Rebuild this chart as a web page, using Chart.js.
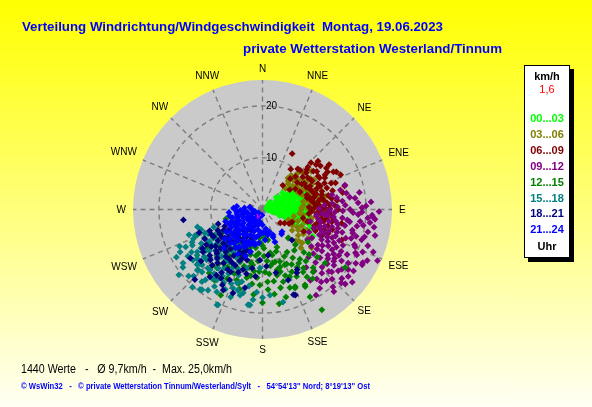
<!DOCTYPE html>
<html>
<head>
<meta charset="utf-8">
<script src="https://cdn.jsdelivr.net/npm/chart.js@4.4.0/dist/chart.umd.min.js"></script>
<style>
html,body{margin:0;padding:0;}
#wrap{position:relative;width:592px;height:407px;overflow:hidden;
  background:linear-gradient(to bottom,#ffff00 0%,#ffff30 20%,#ffff90 60%,#fffff4 100%);
  font-family:"Liberation Sans",Arial,Helvetica,sans-serif;}
#box{position:absolute;left:0;top:0;width:592px;height:407px;}
.t{position:absolute;white-space:pre;line-height:1;transform-origin:0 50%;}
.c{position:absolute;white-space:pre;font-size:10px;line-height:10px;color:#000;}
#legend{position:absolute;left:524px;top:65px;width:46px;height:193px;box-sizing:border-box;
  background:#fff;border:1px solid #000;box-shadow:4px 4px 0 #000;}
.lg{position:absolute;left:0;width:44px;text-align:center;font-size:11px;line-height:12px;height:12px;font-weight:bold;white-space:pre;}
</style>
</head>
<body>
<div id="wrap">
  <div id="box"><canvas id="cv"></canvas></div>
  <div class="t" id="title1" style="left:22px;top:20px;font-size:13px;font-weight:bold;color:#0000ff;">Verteilung Windrichtung/Windgeschwindigkeit  Montag, 19.06.2023</div>
  <div class="t" id="title2" style="left:243px;top:42px;font-size:13px;font-weight:bold;color:#0000ff;">private Wetterstation Westerland/Tinnum</div>
  <div class="t" id="foot1" style="left:21px;top:363px;font-size:12px;color:#000;">1440 Werte   -   Ø 9,7km/h  -  Max. 25,0km/h</div>
  <div class="t" id="foot2" style="left:21px;top:382px;font-size:8.5px;font-weight:bold;color:#0000ff;">© WsWin32   -   © private Wetterstation Tinnum/Westerland/Sylt   -   54°54'13'' Nord; 8°19'13'' Ost</div>
  <div id="legend"></div>
</div>
<script>
// ---------- data ----------
const compassLabels = ['N','NNE','NE','ENE','E','ESE','SE','SSE','S','SSW','SW','WSW','W','WNW','NW','NNW'];
const ringTicks = [10, 20];
const maxSpeed = 25;
const unitLabel = 'km/h';
const currentSpeed = '1,6';
const hourLabels = ['00...03','03...06','06...09','09...12','12...15','15...18','18...21','21...24'];
const hourUnit = 'Uhr';

// each point: [direction in degrees (0 = N, clockwise), speed km/h]
const wind00_03 = [[62,1],[70,1.2],[80,0.8],[90,1.5],[75,2],[65,2.3],[85,2.5],[95,2.2],[58,3],[68,3.2],[78,3],[88,3.4],[100,3],
 [60,4],[70,4.2],[80,4],[90,4.3],[104,4],[56,5],[64,5.2],[72,5],[82,5.4],[92,5.1],[102,5.3],[110,4.8],[58,6],[66,6.3],[74,6.1],
 [84,6.4],[94,6.2],[106,6],[60,7],[68,7.2],[76,7.4],[86,7.1],[98,7],[108,6.8],[63,8],[71,8.3],[79,8.6],[89,8],[100,7.8],[66,9],
 [74,9.2],[92,8.8],[73,1.8],[83,1.6],[67,2.8],[77,3.6],[93,3.8],[61,4.6],[76,4.8],[86,4.7],[96,4.6],[69,5.7],[79,5.8],[88,5.9],
 [99,5.7],[63,6.7],[71,6.6],[81,6.8],[91,6.7],[102,6.5],[84,8.2],[95,8.4],[118,11],[112,10],[54,4],[52,6.5],[115,7.5],[45,2],
 [48,3.5],[50,1.5],[105,2],[110,3.5],[108,9.5],
 [57,1.5],[67,1.6],[87,1],[97,1.2],[72,2.6],[82,2.2],[92,2.8],[102,2.6],[63,3.6],[73,3.9],[83,3.2],[97,3.4],[107,3.2],[66,4.4],
 [75,4.5],[85,4],[95,4.2],[100,4.6],[60,5.5],[68,5.5],[77,5.3],[87,5.6],[97,5.4],[106,5.2],[62,6.2],[70,6],[79,6.3],[89,6.4],
 [98,6.3],[104,6.8],[57,7.2],[65,7.6],[73,7.8],[82,7.6],[93,7.5],[104,7.4],[69,8.7],[78,9],[87,8.6],[97,8.9],[104,8.4],[112,7],
 [114,6],[116,9],[55,8],[50,5],[110,8.3],[73,10],[84,9.5],[70,9.6],[80,7.8],[90,7.4],[96,7.9],[102,9.2],[77,8.2],[86,9.2],[67,8.2]];
const wind03_06 = [[39,7.8],[40,8.6],[45,7],[50,9],[55,8],[48,10.5],[58,10],[62,7.5],[65,9.3],[70,8.2],[72,10.5],[80,9],
 [84,8],[88,10],[90,7.5],[95,9],[98,8],[104,9.5],[108,7.2],[112,5.4],[115,9.5],[120,8],[125,7],[130,10],[133,8.8],[60,11.5],
 [68,12],[82,11.2],[100,11],[102,6.2],[118,6.5],[110,11],[78,12.5],[52,12],[44,9.6],
 [64,8.5],[94,10.6],[106,8.5],[122,10.5],[70,11],[97,12],[58,9.2],[128,12],[48,6],[75,9.8],[89,8.8],
 [42,7.4],[46,8.2],[52,7.4],[54,9.6],[57,11],[61,9.4],[63,10.8],[67,7.8],[69,9.7],[73,8.8],[77,11],[79,8],[81,10],[83,9.5],
 [87,7.6],[91,9.3],[93,11.5],[96,7.2],[100,9.6],[103,8.2],[107,10.5],[110,6.2],[113,8.2],[117,7.5],[121,9.2],[126,8.5],[131,9.3],
 [135,10.5],[59,8]];
const wind06_09 = [[28,12.2],[41,10.4],[53,12.3],[57,14.7],[61,12.6],[55,10.7],[71.5,13.1],[76,11.8],[83,14.5],[90,14.6],
 [100,13.6],[127,4.3],[113,6.2],[40,6.1],[88,10.1],[95,11.5],[75.5,8.9],[111,16.4],[45,9],[48,11.5],[50,13.5],[52,8.5],[58,9.5],
 [60,11],[63,13.5],[65,8],[67,10],[68,12],[70,15],[72,9],[74,10.8],[78,13],[80,9.6],[82,12],[85,10.5],[86,13],[88,12],[92,9.5],
 [93,13],[97,10.5],[98,12.5],[103,11],[105,9],[108,12.5],[46,13],[42,8],[62,15.5],[66,16.5],[78,15.8],[54,6.5],
 [102,8],[118,9],[35,9.5],[64,10.2],[69,11.2],[77,10.2],[81,11],[59,12.5],[91,11],[87,9],[56,15.5],[49,14.2],[100,15.5],
 [106,14],[122,5],[118,5.8],
 [44,10.5],[47,12],[51,10],[53,14],[55,12.8],[57,9],[59,11],[61,13.8],[63,9.5],[65,11.8],[67,13],[69,14.2],[71,10.3],[73,12],
 [75,14],[77,9.5],[79,11.7],[81,13.5],[83,10],[84,12.5],[86,11],[87,14],[89,13],[90,11.5],[92,12.5],[94,10.5],[96,13.5],[99,11.5],
 [101,12],[104,13],[107,10.5],[110,13.5],[112,11],[114,12.5],[58,7.5],[95,9],[63,16],[74,16.5],[60,14.5],
 [50,11]];
const wind09_12 = [[73.5,16.6],[82,17],[91.5,19.2],[94,21.4],[97,20.9],[78,13.7],[92,14],[95,12.1],[108,11.6],[90,16.9],[89,19.2],
 [93,21.2],[95,21.8],[102,20.8],[105,20.4],[111,22.9],[118,21.9],[119,22],[125,20.2],[129,22.3],[137.7,20.2],[144,18.8],[131,20.3],
 [132,18],[115.7,20.2],[112,19.3],[104.6,18],[104,15],[112,14.5],[122.6,12.7],[125,15.4],[124,16.8],[95,12.7],[86,12],[88,14.5],
 [96,15.5],[98,17],[100,13],[100,18.5],[102,11.5],[106,16],[108,13.5],[108,18],[110,15],[114,12],[114,17],[116,14],[118,18.5],
 [120,11],[120,15.5],[122,19.5],[126,13],[128,17.5],[130,14.5],[134,16],[136,12.8],[140,15.5],[84,15.5],[86,18.5],[92,17.5],
 [96,10.5],[104,9.5],[110,10.5],[116,10],[124,10.5],[101,16.2],[107,20],[113,21],[121,17.2],[127,19.2],[80,19],[76,15.5],[99,14.3],
 [105,12.5],[111,12.8],[117,16],[103,22.3],[97,19],[133,20.8],[141,18],[128,21],[92,12.8],[89,11],[114,24.3],[94.6,20.4],
 [85,13.5],[87,16],[88,20],[90,13],[91,15.5],[93,18.5],[94,11.5],[96,13.8],[97,16.5],[99,19.7],[100,11],[101,14.8],[103,17.8],
 [104,13.8],[106,11.5],[106,18.8],[107,15],[109,17],[109,21.5],[110,12.3],[111,19],[112,16],[113,13.6],[115,15.2],[115,19.8],
 [116,22.5],[117,12.8],[118,17.2],[119,14.5],[120,20.8],[121,13.5],[122,16.2],[123,18.2],[124,21.2],[125,14],[126,17],[127,11.8],
 [127,15.8],[129,18.8],[130,16.3],[131,13],[132,21.5],[133,17.5],[135,14.5],[135,19],[137,16.8],[138,18.5],[139,21],[142,17],
 [143,14],[146,16.5],[148,19.5],[83,18],[79,16.5],[81,14.5],[86,21],[91,22.5],[99,21.8]];
const wind12_15 = [[175,5.3],[170,6],[159,7.8],[138,7.4],[137,9.3],[125.6,10.8],[131,14],[130.6,15.9],[125,19.5],[139,14.9],[147,14.4],
 [146.6,15.6],[150.6,16.7],[157.5,16.4],[164,14.5],[167.5,13],[177.7,12.1],[166.6,10.4],[163,11.6],[154.8,13.3],[170,8.5],[206,18.4],
 [213,13.2],[190,10.9],[184.6,13.2],[161.6,10.6],[158,11.5],[160.7,16],[157,16.2],[151,17],[151.5,19.2],[149.4,22.5],[141,15.5],
 [145,13.8],[166.5,12],[203,12.3],[218,14.3],[182,14.6],[255.5,7.3],[180,7],[185,8.5],[190,7.5],[195,9],[200,8],[205,10],[210,9],
 [215,11],[220,10.5],[175,10],[178,9],[188,12],[193,13.5],[198,11.5],[200,14.5],[208,12],[212,15.5],[172,11],[168,9],[162,8.5],
 [155,10],[152,12],[148,11],[143,12],[196,16],[186,16.5],[176,14],[224,12.5],[230,11],[226,8.5],[186,5.5],[195,6.5],[240,9],
 [235,13],[220,16],[165,17.5],[172,16.5],[180,18],
 [181,5],[183,6.5],[188,9],[190,13],[192,10.5],[197,7.5],[198,15],[202,9.5],[203,11],[204,13.5],[206,8.5],[207,15],[209,10.5],
 [211,13],[213,8],[214,16.5],[216,12.5],[217,9.5],[219,13.5],[222,14.5],[225,10],[178,7.5],[174,12.5],[171,14],[169,10.5],
 [167,15.5],[164,12.5],[161,13.5],[158,14],[156,11.5],[153,14.5],[150,9.5],[149,13],[146,12.5],[144,16.5],[142,10],[140,13],
 [136,11.5],[134,12.5],[185,10],[193,11.5],[196,12],[183,12],[176,15.5],[188,14.5],[170,18.5]];
const wind15_18 = [[234,16.6],[227,17],[222,20.2],[217,19.4],[213,16.2],[194.7,17.1],[205,20.3],[188.6,18.6],[175,16.6],[167.5,18.3],
 [195,11.7],[182.4,11.3],[197,16.3],[200.6,16.2],[221,15.4],[217,14.2],[249,13.9],[243,15.2],[242.7,17.9],[235,15.4],[227.5,15.8],
 [240,11],[243,9.6],[225.7,10.7],[225,8.9],[248.6,13.6],[245,15],[227,17.2],[218,19.6],[205.5,20.4],[200,18],[187.5,18.6],[234,19],
 [210,8],[215,9.5],[220,11],[225,12.5],[230,10],[232,13],[236,12],[238,14],[228,14.5],[222,13],[212,12],[208,14],[204,11],
 [216,16.5],[212,17.5],[208,16],[230,16.5],[238,17],[246,11.5],[250,10],[252,12.5],[236,8],[229,7],[218,7.5],[200,13.5],
 [196,14.5],[190,15],[184,16],[226,18.5],[214,18.8],[241,19],[232,20.5],
 [206,9],[209,10.5],[211,15],[213,13.5],[214,10],[216,12],[217,15.5],[219,8.5],[219,17.5],[221,12],[223,9.5],[223,15.5],
 [224,16.8],[226,11.5],[227,13.8],[229,12],[229,16],[231,14.5],[231,9],[233,11],[233,15.8],[234,13.5],[237,10.5],[237,15],
 [239,12],[239,16],[241,13.5],[242,10.5],[244,12.5],[244,16.5],[247,14.5],[248,12],[251,15],[202,12.5],[203,15.5],[205,17],
 [207,12.5],[209,18.2],[199,15],[193,16.5],[186,17.5],[180,17],[220,18.2],[228,19.2],[236,18.5],[246,17.5],[255,13]];
const wind18_21 = [[262.5,15.4],[239,7.8],[234.5,14.1],[226,12.2],[233,9.1],[228.6,6.5],[214,7.1],[222,14.5],[226,14],[224,18.8],
 [208,16.5],[206,17.3],[199.5,17.1],[192.6,15.5],[210,13.4],[183,9.8],[160,14.5],[160,17.5],[150,13.4],[136,8.2],[151.5,13.9],
 [159,17.7],[173,8.9],[200,6],[205,7.5],[210,6],[215,9],[220,8],[225,10],[230,7.5],[235,10.5],[240,9.5],[218,11.5],[212,10.5],
 [206,12],[202,10],[196,8.5],[228,12],[232,11.5],[238,12.8],[244,11],[222,5.5],[216,5],[208,4.5],[246,8],[250,13],[213,14.5],
 [201,13],[190,11.5],[186,13],[176,11],[168,12.5],[218,16.5],[230,15.5],[236,16.8],[226,9],[204,9],[198,12.2],
 [199,7],[201,8.5],[203,5.5],[207,9.5],[209,7.5],[211,8.7],[213,6.5],[214,11.5],[216,12.8],[217,7.2],[219,9.8],[221,10.8],
 [223,7],[223,12.8],[224,8.5],[227,11],[229,10],[229,13.5],[231,8.5],[232,6.5],[234,12.2],[236,9.5],[237,13.8],[241,10.8],
 [242,8.5],[243,12.5],[245,9.5],[248,11],[252,9],[204,10.8],[207,13.5],[210,11.8],[197,10.2],[194,12.8],[211,15.5],[220,13.5],
 [215,15.5],[205,15]];
const wind21_24 = [[272.9,5.6],[168,5],[159,5.7],[159,6.7],[139,5.7],[142,6],[157.6,5.3],[172,4.6],[281,2.5],[268,4.3],[275,3.5],
 [260,3],[250,2],[240,1.5],[230,1],[220,2.5],[210,2],[200,1.5],[190,2.5],[185,1.1],[240.6,6.1],[210,6.8],[192,7],[224,9],
 [228,5.9],[230,3.2],[192.4,4],[175,5.9],[235,4.5],[245,5],[250,4],[255,6],[258,5],[215,4.5],[205,3.5],[198,5.5],[218,7.5],
 [230,7.5],[238,8.2],[246,7],[215,9],[205,8],[200,9.5],[225,10.5],[195,3],[180,3],[265,6.5],[270,2],[214,5.8],[222,4],
 [232,9.2],[209,9.8],[242,3],[262,5],[252,7.5],
 [193,5.5],[196,6.5],[201,4.5],[203,6.8],[206,5.5],[208,7.5],[211,4],[212,8.5],[213,3],[217,6],[219,5],[220,8.5],[221,3.5],
 [223,6.5],[225,7.5],[226,5],[227,3],[228,8.5],[231,6.5],[233,5],[234,7.5],[236,6],[237,3.5],[239,5.5],[240,7],[243,6],
 [244,4],[247,5.5],[249,6.5],[251,3],[253,5],[256,4],[259,6.5],[263,3.5],[266,5],[200,7.2],[196,8.5],[188,5],[183,4.5],
 [186,6.5],[178,4.5],[170,3.8],[163,4.5],[205,2.5],[215,2],[235,2.5],[255,1.5],[277,5]];
const windLatest = [[200,1.2],[215,1.6],[225,1.4],[210,1.9],[205,1.6]];

// ---------- style ----------
const seriesColors = ['#00ff00','#808000','#800000','#800080','#008000','#008080','#000080','#0000ff'];
const seriesData = [wind00_03,wind03_06,wind06_09,wind09_12,wind12_15,wind15_18,wind18_21,wind21_24];

function toXY(p){ const a = p[0]*Math.PI/180; return {x: p[1]*Math.sin(a), y: p[1]*Math.cos(a)}; }

// legend box (HTML text)
const legend = document.getElementById('legend');
function addLg(text, yc, color, bold){
  const d = document.createElement('div'); d.className='lg'; d.textContent=text;
  d.style.top = (yc - 65 - 1 - 6) + 'px'; d.style.color = color;
  if(!bold) d.style.fontWeight='normal';
  legend.appendChild(d);
}
addLg(unitLabel, 76, '#000', true);
addLg(currentSpeed, 89, '#ff0000', false);
hourLabels.forEach((h,i)=> addLg(h, 118 + i*15.9, seriesColors[i], true));
addLg(hourUnit, 246, '#000', true);

// fit text widths
function fitW(id, w){ const el=document.getElementById(id); const r=el.getBoundingClientRect().width; if(r>0) el.style.transform='scaleX('+(w/r)+')'; }
fitW('title1', 421); fitW('title2', 259); fitW('foot1', 211); fitW('foot2', 349);

// compass + tick label elements
const wrap = document.getElementById('wrap');
const compassEls = compassLabels.map(l=>{ const d=document.createElement('div'); d.className='c'; d.textContent=l; wrap.appendChild(d); return d; });
const tickEls = ringTicks.map(v=>{ const d=document.createElement('div'); d.className='c'; d.textContent=String(v); wrap.appendChild(d); return d; });

function positionLabels(chart){
  const x = chart.scales.x, y = chart.scales.y;
  const cx = x.getPixelForValue(0), cy = y.getPixelForValue(0);
  const R = x.getPixelForValue(maxSpeed) - cx;
  compassEls.forEach((el,i)=>{
    const a = i*22.5*Math.PI/180, s=Math.sin(a), c=Math.cos(a);
    const w = el.getBoundingClientRect().width;
    const d = R + 7 + (w/2)*Math.abs(s) + 3.8*Math.abs(c);
    el.style.left = (cx + d*s - w/2) + 'px';
    el.style.top = (cy - d*c - 5) + 'px';
  });
  tickEls.forEach((el,i)=>{
    const py = y.getPixelForValue(ringTicks[i]);
    el.style.left = (cx + 3.5) + 'px';
    el.style.top = (py - 5) + 'px';
  });
}

const polarGrid = {
  id: 'polarGrid',
  beforeDatasetsDraw(chart){
    const {ctx} = chart; const x = chart.scales.x, y = chart.scales.y;
    const cx = x.getPixelForValue(0), cy = y.getPixelForValue(0);
    const R = x.getPixelForValue(maxSpeed) - cx;
    ctx.save();
    ctx.fillStyle = '#cacaca';
    ctx.beginPath(); ctx.arc(cx, cy, R, 0, Math.PI*2); ctx.fill();
    ctx.strokeStyle = '#7d7d7d'; ctx.lineWidth = 1.4; ctx.setLineDash([5,4]);
    ringTicks.forEach(v=>{ const r = x.getPixelForValue(v) - cx; ctx.beginPath(); ctx.arc(cx, cy, r, 0, Math.PI*2); ctx.stroke(); });
    compassLabels.forEach((l,i)=>{
      const a = i*22.5*Math.PI/180;
      ctx.beginPath(); ctx.moveTo(cx, cy);
      ctx.lineTo(x.getPixelForValue(maxSpeed*Math.sin(a)), y.getPixelForValue(maxSpeed*Math.cos(a)));
      ctx.stroke();
    });
    ctx.restore();
  },
  afterDraw(chart){ positionLabels(chart); }
};

const datasets = seriesData.map((d,i)=>({
  label: hourLabels[i], data: d.map(toXY), showLine:false,
  pointStyle:'rectRot', pointRadius:3.4, pointBackgroundColor: seriesColors[i],
  pointBorderWidth:0, pointBorderColor: seriesColors[i], order: 8-i
}));
datasets.push({label:'aktuell', data: windLatest.map(toXY), showLine:false, pointStyle:'rect', pointRadius:1,
  pointBackgroundColor:'#ff00ff', pointBorderWidth:0, order:0});

new Chart(document.getElementById('cv'), {
  type: 'scatter',
  data: { datasets },
  options: {
    responsive: true, maintainAspectRatio: false, animation: false, events: [],
    layout: { padding: { left: 133, right: 200, top: 80, bottom: 68 } },
    scales: {
      x: { type:'linear', min:-maxSpeed, max:maxSpeed, display:false },
      y: { type:'linear', min:-maxSpeed, max:maxSpeed, display:false }
    },
    plugins: { legend:{display:false}, tooltip:{enabled:false}, title:{display:false} }
  },
  plugins: [polarGrid]
});
</script>
</body>
</html>
